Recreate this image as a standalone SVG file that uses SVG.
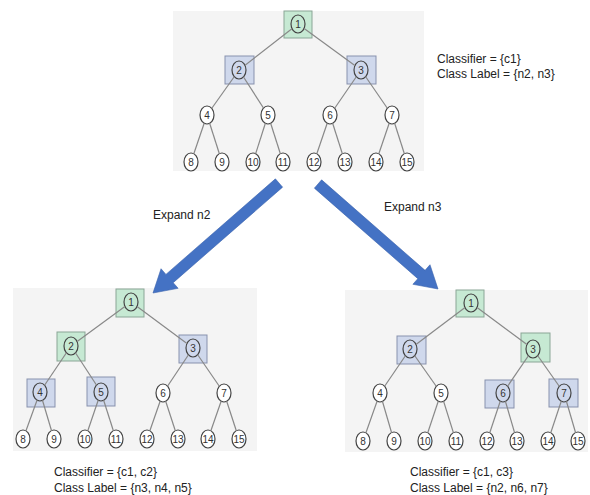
<svg xmlns="http://www.w3.org/2000/svg" width="590" height="495" viewBox="0 0 590 495">
<style>
.panel{fill:#f4f4f4;stroke:none}
.bg{fill:#c6e9d3;stroke:#8aa596;stroke-width:1}
.bb{fill:#cfd8ec;stroke:#8791ad;stroke-width:1}
.n{fill:#ffffff;stroke:#444;stroke-width:1.2}
.nb{fill:none;stroke:#444;stroke-width:1.2}
.t{font-family:"Liberation Sans",Arial,sans-serif;font-size:10px;fill:#333;text-anchor:middle}
.lbl{font-family:"Liberation Sans",Arial,sans-serif;font-size:12px;fill:#222}
.e line{stroke:#888;stroke-width:1.2}
.arrow{fill:#4472c4;stroke:#3a63ad;stroke-width:0.6}
</style>
<defs>
<mask id="m" maskUnits="userSpaceOnUse" x="0" y="0" width="590" height="495">
<rect x="0" y="0" width="590" height="495" fill="#fff"/>
<g fill="#000">
<ellipse cx="298" cy="24" rx="7" ry="9"/><ellipse cx="239" cy="70" rx="7" ry="9"/><ellipse cx="361" cy="70" rx="7" ry="9"/>
<ellipse cx="207" cy="115" rx="7" ry="9"/><ellipse cx="268" cy="115" rx="7" ry="9"/><ellipse cx="330" cy="115" rx="7" ry="9"/><ellipse cx="392" cy="115" rx="7" ry="9"/>
<ellipse cx="191" cy="162" rx="7" ry="9"/><ellipse cx="222" cy="162" rx="7" ry="9"/><ellipse cx="253" cy="162" rx="7" ry="9"/><ellipse cx="283" cy="162" rx="7" ry="9"/>
<ellipse cx="314" cy="162" rx="7" ry="9"/><ellipse cx="345" cy="162" rx="7" ry="9"/><ellipse cx="376" cy="162" rx="7" ry="9"/><ellipse cx="407" cy="162" rx="7" ry="9"/>
<ellipse cx="131" cy="302" rx="7" ry="9"/><ellipse cx="71" cy="346" rx="7" ry="9"/><ellipse cx="193" cy="348" rx="7" ry="9"/>
<ellipse cx="40" cy="392" rx="7" ry="9"/><ellipse cx="101" cy="392" rx="7" ry="9"/><ellipse cx="163" cy="393" rx="7" ry="9"/><ellipse cx="224" cy="393" rx="7" ry="9"/>
<ellipse cx="23" cy="439" rx="7" ry="9"/><ellipse cx="54" cy="439" rx="7" ry="9"/><ellipse cx="85" cy="439" rx="7" ry="9"/><ellipse cx="116" cy="439" rx="7" ry="9"/>
<ellipse cx="147" cy="439" rx="7" ry="9"/><ellipse cx="178" cy="439" rx="7" ry="9"/><ellipse cx="208" cy="439" rx="7" ry="9"/><ellipse cx="239" cy="439" rx="7" ry="9"/>
<ellipse cx="471" cy="303" rx="7" ry="9"/><ellipse cx="410" cy="349" rx="7" ry="9"/><ellipse cx="533" cy="349" rx="7" ry="9"/>
<ellipse cx="380" cy="393" rx="7" ry="9"/><ellipse cx="441" cy="393" rx="7" ry="9"/><ellipse cx="503" cy="393" rx="7" ry="9"/><ellipse cx="564" cy="393" rx="7" ry="9"/>
<ellipse cx="363" cy="441" rx="7" ry="9"/><ellipse cx="394" cy="441" rx="7" ry="9"/><ellipse cx="425" cy="441" rx="7" ry="9"/><ellipse cx="456" cy="441" rx="7" ry="9"/>
<ellipse cx="487" cy="441" rx="7" ry="9"/><ellipse cx="517" cy="441" rx="7" ry="9"/><ellipse cx="548" cy="441" rx="7" ry="9"/><ellipse cx="578" cy="441" rx="7" ry="9"/>
</g>
</mask>
</defs>
<rect width="590" height="495" fill="#ffffff"/>
<g id="panels">
<rect class="panel" x="173" y="11" width="251" height="160"/>
<rect class="panel" x="13" y="288" width="244" height="163"/>
<rect class="panel" x="345" y="290" width="243" height="162"/>
</g>
<!-- Top tree -->
<g id="top-tree">
<g id="t-n1"><rect class="bg" x="284" y="11" width="28" height="27"/><ellipse class="nb" cx="298" cy="24" rx="7" ry="9"/><text class="t" x="298" y="27.5">1</text></g>
<g id="t-n2"><rect class="bb" x="225" y="56" width="29" height="28"/><ellipse class="nb" cx="239" cy="70" rx="7" ry="9"/><text class="t" x="239" y="73.5">2</text></g>
<g id="t-n3"><rect class="bb" x="347" y="56" width="29" height="28"/><ellipse class="nb" cx="361" cy="70" rx="7" ry="9"/><text class="t" x="361" y="73.5">3</text></g>
<g id="t-n4"><ellipse class="n" cx="207" cy="115" rx="7" ry="9"/><text class="t" x="207" y="118.5">4</text></g>
<g id="t-n5"><ellipse class="n" cx="268" cy="115" rx="7" ry="9"/><text class="t" x="268" y="118.5">5</text></g>
<g id="t-n6"><ellipse class="n" cx="330" cy="115" rx="7" ry="9"/><text class="t" x="330" y="118.5">6</text></g>
<g id="t-n7"><ellipse class="n" cx="392" cy="115" rx="7" ry="9"/><text class="t" x="392" y="118.5">7</text></g>
<g id="t-n8"><ellipse class="n" cx="191" cy="162" rx="7" ry="9"/><text class="t" x="191" y="165.5">8</text></g>
<g id="t-n9"><ellipse class="n" cx="222" cy="162" rx="7" ry="9"/><text class="t" x="222" y="165.5">9</text></g>
<g id="t-n10"><ellipse class="n" cx="253" cy="162" rx="7" ry="9"/><text class="t" x="253" y="165.5">10</text></g>
<g id="t-n11"><ellipse class="n" cx="283" cy="162" rx="7" ry="9"/><text class="t" x="283" y="165.5">11</text></g>
<g id="t-n12"><ellipse class="n" cx="314" cy="162" rx="7" ry="9"/><text class="t" x="314" y="165.5">12</text></g>
<g id="t-n13"><ellipse class="n" cx="345" cy="162" rx="7" ry="9"/><text class="t" x="345" y="165.5">13</text></g>
<g id="t-n14"><ellipse class="n" cx="376" cy="162" rx="7" ry="9"/><text class="t" x="376" y="165.5">14</text></g>
<g id="t-n15"><ellipse class="n" cx="407" cy="162" rx="7" ry="9"/><text class="t" x="407" y="165.5">15</text></g>
</g>
<!-- Bottom-left tree -->
<g id="left-tree">
<g id="l-n1"><rect class="bg" x="116" y="289" width="28" height="28"/><ellipse class="nb" cx="131" cy="302" rx="7" ry="9"/><text class="t" x="131" y="305.5">1</text></g>
<g id="l-n2"><rect class="bg" x="57" y="332" width="28" height="29"/><ellipse class="nb" cx="71" cy="346" rx="7" ry="9"/><text class="t" x="71" y="349.5">2</text></g>
<g id="l-n3"><rect class="bb" x="179" y="335" width="28" height="28"/><ellipse class="nb" cx="193" cy="348" rx="7" ry="9"/><text class="t" x="193" y="351.5">3</text></g>
<g id="l-n4"><rect class="bb" x="27" y="379" width="28" height="28"/><ellipse class="nb" cx="40" cy="392" rx="7" ry="9"/><text class="t" x="40" y="395.5">4</text></g>
<g id="l-n5"><rect class="bb" x="87" y="377" width="28" height="29"/><ellipse class="nb" cx="101" cy="392" rx="7" ry="9"/><text class="t" x="101" y="395.5">5</text></g>
<g id="l-n6"><ellipse class="n" cx="163" cy="393" rx="7" ry="9"/><text class="t" x="163" y="396.5">6</text></g>
<g id="l-n7"><ellipse class="n" cx="224" cy="393" rx="7" ry="9"/><text class="t" x="224" y="396.5">7</text></g>
<g id="l-n8"><ellipse class="n" cx="23" cy="439" rx="7" ry="9"/><text class="t" x="23" y="442.5">8</text></g>
<g id="l-n9"><ellipse class="n" cx="54" cy="439" rx="7" ry="9"/><text class="t" x="54" y="442.5">9</text></g>
<g id="l-n10"><ellipse class="n" cx="85" cy="439" rx="7" ry="9"/><text class="t" x="85" y="442.5">10</text></g>
<g id="l-n11"><ellipse class="n" cx="116" cy="439" rx="7" ry="9"/><text class="t" x="116" y="442.5">11</text></g>
<g id="l-n12"><ellipse class="n" cx="147" cy="439" rx="7" ry="9"/><text class="t" x="147" y="442.5">12</text></g>
<g id="l-n13"><ellipse class="n" cx="178" cy="439" rx="7" ry="9"/><text class="t" x="178" y="442.5">13</text></g>
<g id="l-n14"><ellipse class="n" cx="208" cy="439" rx="7" ry="9"/><text class="t" x="208" y="442.5">14</text></g>
<g id="l-n15"><ellipse class="n" cx="239" cy="439" rx="7" ry="9"/><text class="t" x="239" y="442.5">15</text></g>
</g>
<!-- Bottom-right tree -->
<g id="right-tree">
<g id="r-n1"><rect class="bg" x="456" y="290" width="28" height="27"/><ellipse class="nb" cx="471" cy="303" rx="7" ry="9"/><text class="t" x="471" y="306.5">1</text></g>
<g id="r-n2"><rect class="bb" x="397" y="336" width="29" height="28"/><ellipse class="nb" cx="410" cy="349" rx="7" ry="9"/><text class="t" x="410" y="352.5">2</text></g>
<g id="r-n3"><rect class="bg" x="521" y="333" width="29" height="29"/><ellipse class="nb" cx="533" cy="349" rx="7" ry="9"/><text class="t" x="533" y="352.5">3</text></g>
<g id="r-n4"><ellipse class="n" cx="380" cy="393" rx="7" ry="9"/><text class="t" x="380" y="396.5">4</text></g>
<g id="r-n5"><ellipse class="n" cx="441" cy="393" rx="7" ry="9"/><text class="t" x="441" y="396.5">5</text></g>
<g id="r-n6"><rect class="bb" x="485" y="380" width="29" height="28"/><ellipse class="nb" cx="503" cy="393" rx="7" ry="9"/><text class="t" x="503" y="396.5">6</text></g>
<g id="r-n7"><rect class="bb" x="549" y="379" width="29" height="28"/><ellipse class="nb" cx="564" cy="393" rx="7" ry="9"/><text class="t" x="564" y="396.5">7</text></g>
<g id="r-n8"><ellipse class="n" cx="363" cy="441" rx="7" ry="9"/><text class="t" x="363" y="444.5">8</text></g>
<g id="r-n9"><ellipse class="n" cx="394" cy="441" rx="7" ry="9"/><text class="t" x="394" y="444.5">9</text></g>
<g id="r-n10"><ellipse class="n" cx="425" cy="441" rx="7" ry="9"/><text class="t" x="425" y="444.5">10</text></g>
<g id="r-n11"><ellipse class="n" cx="456" cy="441" rx="7" ry="9"/><text class="t" x="456" y="444.5">11</text></g>
<g id="r-n12"><ellipse class="n" cx="487" cy="441" rx="7" ry="9"/><text class="t" x="487" y="444.5">12</text></g>
<g id="r-n13"><ellipse class="n" cx="517" cy="441" rx="7" ry="9"/><text class="t" x="517" y="444.5">13</text></g>
<g id="r-n14"><ellipse class="n" cx="548" cy="441" rx="7" ry="9"/><text class="t" x="548" y="444.5">14</text></g>
<g id="r-n15"><ellipse class="n" cx="578" cy="441" rx="7" ry="9"/><text class="t" x="578" y="444.5">15</text></g>
</g>
<!-- Connectors -->
<g id="connectors" class="e" mask="url(#m)">
<line x1="298" y1="24" x2="239" y2="70"/><line x1="298" y1="24" x2="361" y2="70"/>
<line x1="239" y1="70" x2="207" y2="115"/><line x1="239" y1="70" x2="268" y2="115"/>
<line x1="361" y1="70" x2="330" y2="115"/><line x1="361" y1="70" x2="392" y2="115"/>
<line x1="207" y1="115" x2="191" y2="162"/><line x1="207" y1="115" x2="222" y2="162"/>
<line x1="268" y1="115" x2="253" y2="162"/><line x1="268" y1="115" x2="283" y2="162"/>
<line x1="330" y1="115" x2="314" y2="162"/><line x1="330" y1="115" x2="345" y2="162"/>
<line x1="392" y1="115" x2="376" y2="162"/><line x1="392" y1="115" x2="407" y2="162"/>

<line x1="131" y1="302" x2="71" y2="346"/><line x1="131" y1="302" x2="193" y2="348"/>
<line x1="71" y1="346" x2="40" y2="392"/><line x1="71" y1="346" x2="101" y2="392"/>
<line x1="193" y1="348" x2="163" y2="393"/><line x1="193" y1="348" x2="224" y2="393"/>
<line x1="40" y1="392" x2="23" y2="439"/><line x1="40" y1="392" x2="54" y2="439"/>
<line x1="101" y1="392" x2="85" y2="439"/><line x1="101" y1="392" x2="116" y2="439"/>
<line x1="163" y1="393" x2="147" y2="439"/><line x1="163" y1="393" x2="178" y2="439"/>
<line x1="224" y1="393" x2="208" y2="439"/><line x1="224" y1="393" x2="239" y2="439"/>

<line x1="471" y1="303" x2="410" y2="349"/><line x1="471" y1="303" x2="533" y2="349"/>
<line x1="410" y1="349" x2="380" y2="393"/><line x1="410" y1="349" x2="441" y2="393"/>
<line x1="533" y1="349" x2="503" y2="393"/><line x1="533" y1="349" x2="564" y2="393"/>
<line x1="380" y1="393" x2="363" y2="441"/><line x1="380" y1="393" x2="394" y2="441"/>
<line x1="441" y1="393" x2="425" y2="441"/><line x1="441" y1="393" x2="456" y2="441"/>
<line x1="503" y1="393" x2="487" y2="441"/><line x1="503" y1="393" x2="517" y2="441"/>
<line x1="564" y1="393" x2="548" y2="441"/><line x1="564" y1="393" x2="578" y2="441"/>
</g>
<g id="expand-arrows">
<polygon class="arrow" points="275.38,178.86 282.62,187.14 173.19,282.67 178.12,288.32 153,293 161.02,268.74 165.95,274.39"/>
<polygon class="arrow" points="321.62,179.86 314.38,188.14 417.82,278.65 412.88,284.29 438,289 430.00,264.73 425.06,270.37"/>
</g>
<g id="labels">
<text class="lbl" x="437" y="63">Classifier = {c1}</text>
<text class="lbl" x="437" y="78">Class Label = {n2, n3}</text>
<text class="lbl" x="153" y="219">Expand n2</text>
<text class="lbl" x="384" y="211">Expand n3</text>
<text class="lbl" x="54" y="476">Classifier = {c1, c2}</text>
<text class="lbl" x="54" y="492">Class Label = {n3, n4, n5}</text>
<text class="lbl" x="410" y="476">Classifier = {c1, c3}</text>
<text class="lbl" x="410" y="492">Class Label = {n2, n6, n7}</text>
</g>
</svg>
